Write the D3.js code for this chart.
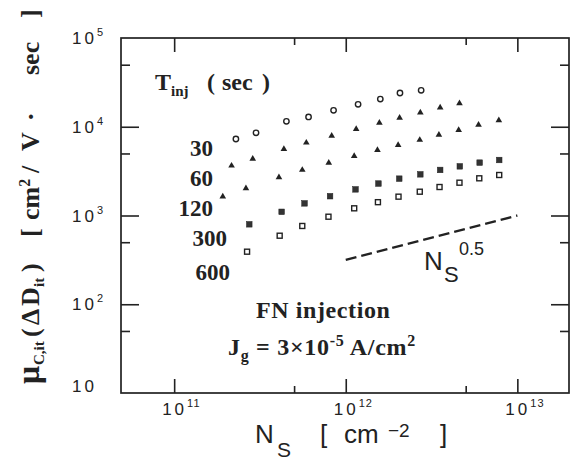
<!DOCTYPE html>
<html>
<head>
<meta charset="utf-8">
<script src="https://cdn.jsdelivr.net/npm/d3@7"></script>
<style>
body { margin: 0; background: #fff; }
text { fill: #222; }
.serif { font-family: "Liberation Serif", "Times New Roman", serif; font-weight: bold; }
.sans { font-family: "Liberation Sans", Arial, Helvetica, sans-serif; }
</style>
</head>
<body>
<svg id="chart" width="579" height="465"></svg>
<script>
// injection times (sec) and the measured points, N_S [cm^-2] vs mu [cm2/V sec]
var injTimes = [30, 60, 120, 300, 600];

var nsT30 = [2.29e11, 3.0e11, 4.51e11, 6.07e11, 8.49e11, 1.18e12, 1.59e12, 2.07e12, 2.75e12];
var muT30 = [7280, 8550, 11500, 12900, 15300, 17900, 20500, 24000, 25700];

var nsT60 = [2.16e11, 2.87e11, 4.36e11, 5.89e11, 8.28e11, 1.15e12, 1.57e12, 2.06e12, 2.72e12, 3.55e12, 4.6e12];
var muT60 = [3640, 4360, 5610, 6610, 7910, 9440, 11100, 12600, 14400, 16400, 18400];

var nsT120 = [1.92e11, 2.62e11, 4.08e11, 5.58e11, 7.96e11, 1.12e12, 1.53e12, 2.02e12, 2.7e12, 3.49e12, 4.55e12, 5.94e12, 7.8e12];
var muT120 = [1630, 2020, 2690, 3260, 3910, 4680, 5470, 6230, 7100, 8130, 9190, 10500, 11800];

var nsT300 = [2.74e11, 4.23e11, 5.75e11, 8.1e11, 1.14e12, 1.55e12, 2.05e12, 2.72e12, 3.55e12, 4.62e12, 6.03e12, 7.84e12];
var muT300 = [796, 1100, 1370, 1650, 1970, 2290, 2600, 2910, 3260, 3580, 3940, 4220];

var nsT600 = [2.66e11, 4.12e11, 5.58e11, 7.93e11, 1.12e12, 1.54e12, 2.03e12, 2.7e12, 3.52e12, 4.6e12, 6.0e12, 7.84e12];
var muT600 = [391, 592, 762, 969, 1205, 1413, 1630, 1854, 2094, 2342, 2625, 2860];

// N_S^0.5 guide line
var slopeNs = [1e12, 1e13];
var slopeMu = [316, 1000];

// ticks
var xMajor = [1e11, 1e12, 1e13];
var xMinor = [5e11, 5e12];
var xExp = ["11", "12", "13"];
var yMajor = [10, 100, 1000, 1e4, 1e5];
var yMinor = [50, 500, 5000, 50000];
var yExp = ["", "2", "3", "4", "5"];

var svg = d3.select("#chart");
var L = 121, R = 569, T = 38, B = 393;

var x = d3.scaleLog().domain([4.9e10, 2e13]).range([L, R]);
var y = d3.scaleLog().domain([10, 1e5]).range([B, T]);

// frame
svg.append("rect")
    .attr("x", L).attr("y", T)
    .attr("width", R - L).attr("height", B - T)
    .attr("fill", "none").attr("stroke", "#222").attr("stroke-width", 1.7);

// inward ticks on all four sides
function ticks(axis, vals, size, tx) {
    svg.append("g")
        .attr("transform", tx)
        .call(axis.tickValues(vals).tickSize(size).tickFormat(""))
        .call(function(g) {
            g.select(".domain").remove();
            g.selectAll("line").attr("stroke", "#222").attr("stroke-width", 1.6);
        });
}
ticks(d3.axisBottom(x), xMajor, -14, "translate(0," + B + ")");
ticks(d3.axisBottom(x), xMinor, -7, "translate(0," + B + ")");
ticks(d3.axisTop(x), xMajor, -14, "translate(0," + T + ")");
ticks(d3.axisTop(x), xMinor, -7, "translate(0," + T + ")");
ticks(d3.axisLeft(y), yMajor.slice(1, 4), -18, "translate(" + L + ",0)");
ticks(d3.axisLeft(y), yMinor, -9, "translate(" + L + ",0)");
ticks(d3.axisRight(y), yMajor.slice(1, 4), -18, "translate(" + R + ",0)");
ticks(d3.axisRight(y), yMinor, -9, "translate(" + R + ",0)");

// tick labels 10^n
function powLabel(px, py, exp) {
    var t = svg.append("text").attr("class", "sans")
        .attr("x", px).attr("y", py)
        .attr("font-size", 17).attr("letter-spacing", 3);
    t.append("tspan").text("10");
    if (exp) {
        t.append("tspan").attr("font-size", 11).attr("letter-spacing", 1)
            .attr("dy", -8).text(exp);
    }
}
xMajor.forEach(function(v, i) { powLabel(x(v) - 12, 415, xExp[i]); });
yMajor.forEach(function(v, i) { powLabel(72, Math.min(y(v) + 6, 392), yExp[i]); });

// guide line
svg.append("line")
    .attr("x1", x(slopeNs[0])).attr("y1", y(slopeMu[0]))
    .attr("x2", x(slopeNs[1])).attr("y2", y(slopeMu[1]))
    .attr("stroke", "#222").attr("stroke-width", 2.4)
    .attr("stroke-dasharray", "11,5");

// data
var series = [
    { ns: nsT30, mu: muT30, shape: "circle" },
    { ns: nsT60, mu: muT60, shape: "triangle" },
    { ns: nsT120, mu: muT120, shape: "triangle" },
    { ns: nsT300, mu: muT300, shape: "fsquare" },
    { ns: nsT600, mu: muT600, shape: "osquare" }
];
var tri = d3.symbol().type(d3.symbolTriangle).size(19);

series.forEach(function(s) {
    var pts = s.ns.map(function(n, i) { return [n, s.mu[i]]; });
    var g = svg.append("g");
    if (s.shape == "circle") {
        g.selectAll("circle").data(pts).enter().append("circle")
            .attr("cx", function(d) { return x(d[0]); })
            .attr("cy", function(d) { return y(d[1]); })
            .attr("r", 2.7)
            .attr("fill", "none").attr("stroke", "#222").attr("stroke-width", 1.4);
    } else if (s.shape == "triangle") {
        g.selectAll("path").data(pts).enter().append("path")
            .attr("d", tri)
            .attr("transform", function(d) { return "translate(" + x(d[0]) + "," + y(d[1]) + ")"; })
            .attr("fill", "#222");
    } else {
        var open = s.shape == "osquare";
        var sz = open ? 5 : 5.6;
        g.selectAll("rect").data(pts).enter().append("rect")
            .attr("x", function(d) { return x(d[0]) - sz / 2; })
            .attr("y", function(d) { return y(d[1]) - sz / 2; })
            .attr("width", sz).attr("height", sz)
            .attr("fill", open ? "#fff" : "#333")
            .attr("stroke", "#222").attr("stroke-width", open ? 1.4 : 0.5);
    }
});

// legend: T_inj ( sec ) and the time labels
var tl = svg.append("text").attr("class", "serif").attr("x", 155).attr("y", 90).attr("font-size", 24);
tl.append("tspan").text("T");
tl.append("tspan").attr("font-size", 15).attr("dy", 6).text("inj");
tl.append("tspan").attr("x", 207).attr("dy", -6).text("(");
tl.append("tspan").attr("x", 222).text("sec");
tl.append("tspan").attr("x", 262).text(")");

var timePos = [[213, 156], [213, 186], [213, 216], [227, 246], [230, 280]];
svg.selectAll(".tlab").data(injTimes).enter().append("text")
    .attr("class", "serif tlab")
    .attr("x", function(d, i) { return timePos[i][0]; })
    .attr("y", function(d, i) { return timePos[i][1]; })
    .attr("text-anchor", "end").attr("font-size", 23)
    .text(function(d) { return d; });

// annotations
svg.append("text").attr("class", "serif").attr("x", 256).attr("y", 318)
    .attr("font-size", 24).attr("letter-spacing", 0.6).text("FN injection");

var jg = svg.append("text").attr("class", "serif").attr("x", 228).attr("y", 355)
    .attr("font-size", 24).attr("letter-spacing", 0.7);
jg.append("tspan").text("J");
jg.append("tspan").attr("font-size", 16).attr("dy", 6).text("g");
jg.append("tspan").attr("dy", -6).text(" = 3\u00d710");
jg.append("tspan").attr("font-size", 16).attr("dy", -9).text("-5");
jg.append("tspan").attr("dy", 9).text(" A/cm");
jg.append("tspan").attr("font-size", 16).attr("dy", -9).text("2");

var sl = svg.append("text").attr("class", "sans").attr("x", 424).attr("y", 270).attr("font-size", 26);
sl.append("tspan").text("N");
sl.append("tspan").attr("x", 444).attr("y", 282).attr("font-size", 22).text("S");
sl.append("tspan").attr("x", 459).attr("y", 255).attr("font-size", 18).text("0.5");

// x axis title
var xt = svg.append("text").attr("class", "sans").attr("y", 443).attr("font-size", 26);
xt.append("tspan").attr("x", 255).text("N");
xt.append("tspan").attr("x", 277).attr("y", 457).attr("font-size", 21).text("S");
xt.append("tspan").attr("x", 320).attr("y", 443).text("[");
xt.append("tspan").attr("x", 344).text("cm");
xt.append("tspan").attr("x", 388).attr("y", 437).attr("font-size", 19).text("\u22122");
xt.append("tspan").attr("x", 440).attr("y", 443).text("]");

// y axis title (rotated)
var yt = svg.append("g").attr("transform", "translate(39,0) rotate(-90)")
    .append("text").attr("class", "serif").attr("font-size", 26);
yt.append("tspan").attr("x", -384).attr("font-size", 32).text("\u03bc");
yt.append("tspan").attr("x", -365).attr("font-size", 15).attr("dy", 5).text("C,it");
yt.append("tspan").attr("x", -337).attr("dy", -5).text("(");
yt.append("tspan").attr("x", -325).text("\u0394");
yt.append("tspan").attr("x", -306).text("D");
yt.append("tspan").attr("x", -287).attr("font-size", 15).attr("dy", 5).text("it");
yt.append("tspan").attr("x", -272).attr("dy", -5).text(")");
yt.append("tspan").attr("x", -237).text("[");
yt.append("tspan").attr("x", -220).text("cm");
yt.append("tspan").attr("font-size", 16).attr("dy", -9).text("2");
yt.append("tspan").attr("x", -173).attr("dy", 9).text("/");
yt.append("tspan").attr("x", -151).text("V");
yt.append("tspan").attr("x", -121).text("\u00b7");
yt.append("tspan").attr("x", -75).text("sec");
yt.append("tspan").attr("x", -18).text("]");
</script>
</body>
</html>
